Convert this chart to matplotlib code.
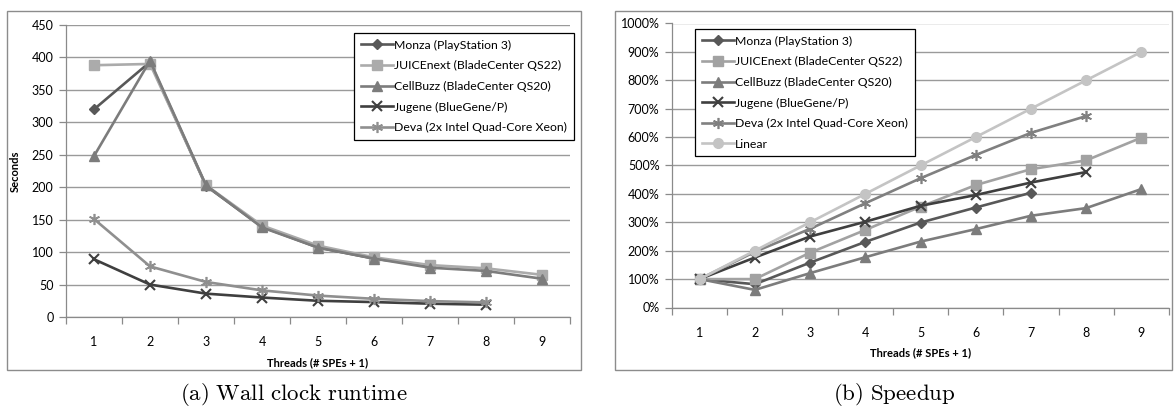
"""Wall clock runtime and speedup of the parallel code on several machines."""

import matplotlib

matplotlib.use("Agg")
import matplotlib.pyplot as plt
from matplotlib.patches import Rectangle
from matplotlib.ticker import FuncFormatter, MultipleLocator

plt.rcParams["font.family"] = ["Lato", "DejaVu Sans"]
plt.rcParams["mathtext.fontset"] = "cm"

# threads (# SPEs + 1)
threads = [1, 2, 3, 4, 5, 6, 7, 8, 9]

# runtime in seconds
monza_rt = [320, 393, 202, 139, 107, 90, 79]
juice_rt = [388, 390, 203, 141, 110, 92, 80, 75, 65]
cellbuzz_rt = [248, 395, 203, 138, 107, 90, 76, 71, 59]
jugene_rt = [89, 50, 36, 30, 25, 23, 20.5, 19]
deva_rt = [151, 78, 54, 41, 33, 28, 24.5, 22.5]

# speedup in percent
monza_sp = [100, 82, 158, 231, 299, 352, 404]
juice_sp = [100, 100, 193, 273, 355, 431, 487, 518, 598]
cellbuzz_sp = [100, 62, 121, 177, 232, 276, 323, 350, 417]
jugene_sp = [100, 176, 250, 302, 358, 396, 440, 477]
deva_sp = [100, 196, 277, 367, 455, 537, 615, 674]
linear_sp = [100, 200, 300, 400, 500, 600, 700, 800, 900]

names = [
    "Monza (PlayStation 3)",
    "JUICEnext (BladeCenter QS22)",
    "CellBuzz (BladeCenter QS20)",
    "Jugene (BlueGene/P)",
    "Deva (2x Intel Quad-Core Xeon)",
    "Linear",
]

styles = [
    dict(color="#585858", marker="D", ms=5.5),
    dict(color="#ababab", marker="s", ms=6.5),
    dict(color="#7c7c7c", marker="^", ms=7),
    dict(color="#3f3f3f", marker="x", ms=7, mew=1.5),
    dict(color="#8f8f8f", marker=(6, 2, 0), ms=8, mew=1.2),
    dict(color="#c4c4c4", marker="o", ms=7),
]
styles_sp = [dict(s) for s in styles]
styles_sp[1]["color"] = "#a2a2a2"
styles_sp[4]["color"] = "#808080"

W, H = 1174, 412
fig = plt.figure(figsize=(W / 100, H / 100), dpi=100)


def px_axes(x0, y0, x1, y1):
    return fig.add_axes([x0 / W, 1 - y1 / H, (x1 - x0) / W, (y1 - y0) / H])


def style_axes(ax, ymax, step):
    ax.set_xlim(0.5, 9.5)
    ax.set_ylim(0, ymax)
    ax.yaxis.set_major_locator(MultipleLocator(step))
    ax.set_xticks(threads)
    ax.set_xticks([t - 0.5 for t in threads] + [9.5], minor=True)
    ax.tick_params(axis="x", which="major", length=0, pad=14, labelsize=9)
    ax.tick_params(axis="x", which="minor", length=5, color="#8a8a8a", width=0.9)
    ax.tick_params(axis="y", length=5, color="#8a8a8a", width=0.9, labelsize=9, pad=4)
    ax.grid(axis="y", color="#9a9a9a", lw=1.0)
    ax.set_axisbelow(True)
    for side in ("top", "right"):
        ax.spines[side].set_visible(False)
    for side in ("left", "bottom"):
        ax.spines[side].set_color("#8a8a8a")
        ax.spines[side].set_linewidth(0.9)
    ax.set_xlabel("Threads (# SPEs + 1)", fontsize=8, fontweight="bold", labelpad=6)


def add_legend(ax, x, y):
    leg = ax.legend(
        loc="upper left",
        bbox_to_anchor=(x / W, 1 - y / H),
        bbox_transform=fig.transFigure,
        fontsize=8.8,
        frameon=True,
        fancybox=False,
        edgecolor="black",
        framealpha=1,
        borderpad=0.55,
        labelspacing=0.78,
        handlelength=2.6,
        handletextpad=0.15,
        borderaxespad=0,
    )
    leg.get_frame().set_linewidth(0.9)


# (a) runtime
ax1 = px_axes(66, 25, 570, 317)
for vals, name, st in zip(
    [monza_rt, juice_rt, cellbuzz_rt, jugene_rt, deva_rt], names, styles
):
    ax1.plot(threads[: len(vals)], vals, lw=1.9, label=name, **st)
style_axes(ax1, 450, 50)
ax1.set_ylabel("Seconds", fontsize=8, fontweight="bold", labelpad=8)
add_legend(ax1, 354, 33)

# (b) speedup
ax2 = px_axes(672, 23.5, 1169, 307.5)
for vals, name, st in zip(
    [monza_sp, juice_sp, cellbuzz_sp, jugene_sp, deva_sp, linear_sp], names, styles_sp
):
    ax2.plot(threads[: len(vals)], vals, lw=1.9, label=name, **st)
style_axes(ax2, 1000, 100)
ax2.yaxis.set_major_formatter(FuncFormatter(lambda v, _: f"{v:.0f}%"))
add_legend(ax2, 695, 29)

# outer frames of both charts
for x0, x1 in [(7, 581), (615, 1172)]:
    fig.patches.append(
        Rectangle(
            (x0 / W, 1 - 370 / H),
            (x1 - x0) / W,
            (370 - 11) / H,
            transform=fig.transFigure,
            fill=False,
            edgecolor="#8c8c8c",
            lw=1.0,
        )
    )

fig.text(294 / W, 1 - 395 / H, r"$\mathrm{(a)\ Wall\ clock\ runtime}$",
         ha="center", va="center", fontsize=16.5)
fig.text(894 / W, 1 - 395 / H, r"$\mathrm{(b)\ Speedup}$",
         ha="center", va="center", fontsize=16.5)

fig.savefig("out.png", dpi=100)
